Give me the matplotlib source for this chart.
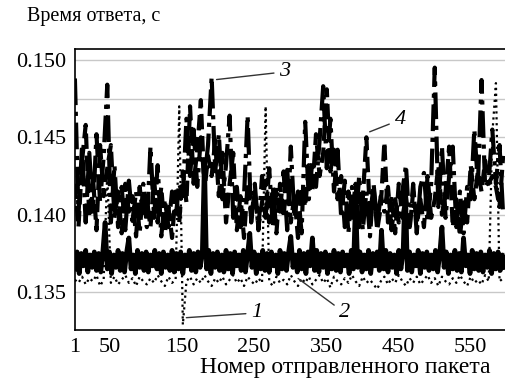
import numpy as np
import matplotlib
matplotlib.use("Agg")
import matplotlib.pyplot as plt

plt.rcParams['font.family'] = ['Liberation Serif', 'DejaVu Serif']

# packet numbers (every 5th packet)
packets = np.arange(1, 601, 5)
# curve 2 is read more densely (every 3rd packet)
packets2 = np.arange(1, 601, 3)

# curve 1 - dotted, lowest
resp1 = [
    0.1358, 0.1356, 0.1360, 0.1355, 0.1359, 0.1357, 0.1361, 0.1354, 0.1358, 0.1428,
    0.1356, 0.1360, 0.1355, 0.1358, 0.1361, 0.1356, 0.1359, 0.1354, 0.1360, 0.1357,
    0.1355, 0.1359, 0.1356, 0.1361, 0.1357, 0.1354, 0.1360, 0.1356, 0.1358, 0.1470,
    0.1329, 0.1357, 0.1360, 0.1355, 0.1359, 0.1356, 0.1361, 0.1357, 0.1354, 0.1359,
    0.1356, 0.1360, 0.1355, 0.1358, 0.1361, 0.1356, 0.1359, 0.1354, 0.1360, 0.1357,
    0.1355, 0.1359, 0.1356, 0.1470, 0.1357, 0.1354, 0.1360, 0.1356, 0.1358, 0.1355,
    0.1361, 0.1357, 0.1354, 0.1359, 0.1356, 0.1360, 0.1355, 0.1358, 0.1361, 0.1356,
    0.1359, 0.1353, 0.1360, 0.1357, 0.1355, 0.1359, 0.1356, 0.1361, 0.1357, 0.1354,
    0.1360, 0.1356, 0.1358, 0.1355, 0.1352, 0.1357, 0.1360, 0.1355, 0.1359, 0.1356,
    0.1361, 0.1357, 0.1354, 0.1359, 0.1356, 0.1360, 0.1355, 0.1358, 0.1361, 0.1356,
    0.1359, 0.1354, 0.1360, 0.1357, 0.1355, 0.1359, 0.1356, 0.1361, 0.1357, 0.1354,
    0.1360, 0.1356, 0.1358, 0.1355, 0.1361, 0.1357, 0.1452, 0.1485, 0.1357, 0.1359,
]

# curve 2 - solid, thick band
resp2 = [
    0.1365, 0.1376, 0.1362, 0.1375, 0.1367, 0.1377, 0.1363, 0.1374, 0.1366, 0.1376,
    0.1364, 0.1375, 0.1363, 0.1377, 0.1395, 0.1365, 0.1376, 0.1362, 0.1374, 0.1366,
    0.1377, 0.1364, 0.1375, 0.1363, 0.1376, 0.1385, 0.1365, 0.1374, 0.1362, 0.1377,
    0.1366, 0.1375, 0.1364, 0.1376, 0.1363, 0.1374, 0.1367, 0.1377, 0.1365, 0.1375,
    0.1362, 0.1376, 0.1366, 0.1374, 0.1364, 0.1377, 0.1363, 0.1375, 0.1365, 0.1376,
    0.1362, 0.1374, 0.1367, 0.1377, 0.1364, 0.1375, 0.1363, 0.1376, 0.1366, 0.1374,
    0.1435, 0.1365, 0.1377, 0.1362, 0.1375, 0.1366, 0.1376, 0.1364, 0.1374, 0.1363,
    0.1377, 0.1365, 0.1375, 0.1362, 0.1376, 0.1367, 0.1374, 0.1364, 0.1377, 0.1363,
    0.1375, 0.1388, 0.1366, 0.1376, 0.1362, 0.1374, 0.1365, 0.1377, 0.1364, 0.1375,
    0.1363, 0.1376, 0.1367, 0.1374, 0.1362, 0.1377, 0.1365, 0.1375, 0.1364, 0.1376,
    0.1386, 0.1366, 0.1374, 0.1363, 0.1377, 0.1365, 0.1375, 0.1362, 0.1376, 0.1367,
    0.1385, 0.1364, 0.1377, 0.1363, 0.1375, 0.1366, 0.1376, 0.1362, 0.1374, 0.1365,
    0.1377, 0.1364, 0.1375, 0.1363, 0.1376, 0.1367, 0.1374, 0.1362, 0.1377, 0.1365,
    0.1410, 0.1366, 0.1376, 0.1363, 0.1374, 0.1365, 0.1377, 0.1362, 0.1375, 0.1367,
    0.1376, 0.1364, 0.1390, 0.1365, 0.1377, 0.1363, 0.1375, 0.1366, 0.1374, 0.1362,
    0.1377, 0.1365, 0.1375, 0.1422, 0.1364, 0.1376, 0.1363, 0.1374, 0.1367, 0.1377,
    0.1362, 0.1375, 0.1366, 0.1376, 0.1364, 0.1374, 0.1365, 0.1377, 0.1363, 0.1375,
    0.1392, 0.1366, 0.1376, 0.1362, 0.1374, 0.1365, 0.1377, 0.1364, 0.1375, 0.1363,
    0.1385, 0.1367, 0.1374, 0.1362, 0.1377, 0.1365, 0.1375, 0.1364, 0.1376, 0.1363,
    0.1374, 0.1366, 0.1377, 0.1362, 0.1375, 0.1365, 0.1376, 0.1364, 0.1374, 0.1366,
]

# curve 3 - dash-dot
resp3 = [
    0.1488, 0.1400, 0.1445, 0.1395, 0.1440, 0.1402, 0.1452, 0.1408, 0.1438, 0.1484,
    0.1395, 0.1432, 0.1392, 0.1418, 0.1390, 0.1422, 0.1396, 0.1415, 0.1388, 0.1420,
    0.1392, 0.1444, 0.1398, 0.1432, 0.1386, 0.1410, 0.1392, 0.1415, 0.1398, 0.1420,
    0.1412, 0.1462, 0.1425, 0.1455, 0.1418, 0.1450, 0.1422, 0.1445, 0.1489, 0.1428,
    0.1452, 0.1410, 0.1432, 0.1464, 0.1398, 0.1418, 0.1392, 0.1412, 0.1464, 0.1395,
    0.1420, 0.1390, 0.1425, 0.1398, 0.1430, 0.1392, 0.1418, 0.1402, 0.1428, 0.1390,
    0.1444, 0.1398, 0.1415, 0.1388, 0.1460, 0.1410, 0.1435, 0.1418, 0.1448, 0.1483,
    0.1430, 0.1462, 0.1415, 0.1442, 0.1398, 0.1422, 0.1388, 0.1418, 0.1395, 0.1425,
    0.1390, 0.1415, 0.1386, 0.1420, 0.1395, 0.1412, 0.1402, 0.1418, 0.1390, 0.1410,
    0.1395, 0.1415, 0.1432, 0.1392, 0.1420, 0.1388, 0.1418, 0.1427, 0.1395, 0.1420,
    0.1495, 0.1405, 0.1444, 0.1398, 0.1425, 0.1444, 0.1392, 0.1415, 0.1388, 0.1418,
    0.1410, 0.1455, 0.1420, 0.1487, 0.1418, 0.1422, 0.1455, 0.1420, 0.1445, 0.1400,
]

# curve 4 - dashed
resp4 = [
    0.1420, 0.1392, 0.1435, 0.1458, 0.1398, 0.1425, 0.1390, 0.1445, 0.1412, 0.1430,
    0.1445, 0.1398, 0.1415, 0.1388, 0.1420, 0.1402, 0.1412, 0.1386, 0.1418, 0.1398,
    0.1410, 0.1392, 0.1423, 0.1395, 0.1418, 0.1388, 0.1405, 0.1385, 0.1415, 0.1395,
    0.1428, 0.1408, 0.1470, 0.1420, 0.1442, 0.1474, 0.1415, 0.1438, 0.1425, 0.1448,
    0.1412, 0.1440, 0.1395, 0.1420, 0.1440, 0.1390, 0.1412, 0.1385, 0.1420, 0.1398,
    0.1415, 0.1392, 0.1408, 0.1422, 0.1395, 0.1418, 0.1388, 0.1420, 0.1398, 0.1429,
    0.1395, 0.1412, 0.1385, 0.1418, 0.1405, 0.1432, 0.1415, 0.1452, 0.1425, 0.1440,
    0.1481, 0.1428, 0.1442, 0.1410, 0.1425, 0.1392, 0.1415, 0.1398, 0.1420, 0.1392,
    0.1410, 0.1450, 0.1400, 0.1418, 0.1390, 0.1405, 0.1447, 0.1395, 0.1412, 0.1388,
    0.1420, 0.1398, 0.1412, 0.1390, 0.1415, 0.1395, 0.1410, 0.1392, 0.1425, 0.1398,
    0.1410, 0.1432, 0.1400, 0.1415, 0.1444, 0.1392, 0.1410, 0.1386, 0.1408, 0.1395,
    0.1432, 0.1410, 0.1428, 0.1415, 0.1435, 0.1420, 0.1425, 0.1418, 0.1405, 0.1438,
]

xticks = [1, 50, 150, 250, 350, 450, 550]
yticks = [0.135, 0.140, 0.145, 0.150]

fig = plt.figure(figsize=(5.06, 3.85), dpi=100)
ax = fig.add_axes([0.148, 0.143, 0.852, 0.730])

ax.plot(packets, resp1, color='black', linestyle=':', linewidth=1.6)
ax.plot(packets2, resp2, color='black', linestyle='-', linewidth=3.4)
ax.plot(packets, resp3, color='black', linestyle='-.', linewidth=3.0)
ax.plot(packets, resp4, color='black', linestyle='--', linewidth=3.0)

ax.set_xlim(1, 600)
ax.set_ylim(0.13256, 0.15071)
ax.set_xticks(xticks)
ax.set_xticklabels([str(t) for t in xticks])
ax.set_yticks(yticks)
ax.set_yticklabels(['%.3f' % t for t in yticks])
ax.set_yticks(np.arange(0.135, 0.1501, 0.0025), minor=True)
ax.grid(True, which='both', axis='y', color='#c8c8c8', linewidth=1.0)
ax.set_axisbelow(True)
ax.tick_params(length=0, labelsize=16, pad=6)
ax.tick_params(which='minor', length=0)
ax.spines['right'].set_visible(False)
for s in ['left', 'top', 'bottom']:
    ax.spines[s].set_linewidth(1.2)

# curve labels with leader lines
lead = dict(arrowstyle='-', color='#333333', linewidth=1.0)
ax.annotate('3', xy=(194, 0.14871), xytext=(293, 0.14923), fontsize=16, style='italic',
            va='center', ha='center', arrowprops=lead)
ax.annotate('4', xy=(407, 0.14529), xytext=(453, 0.14613), fontsize=16, style='italic',
            va='center', ha='center', arrowprops=lead)
ax.annotate('1', xy=(152, 0.13334), xytext=(254, 0.13366), fontsize=16, style='italic',
            va='center', ha='center', arrowprops=lead)
ax.annotate('2', xy=(308, 0.13599), xytext=(376, 0.13366), fontsize=16, style='italic',
            va='center', ha='center', arrowprops=lead)

fig.text(27 / 506, 1 - 17 / 385, 'Время ответа, с', fontsize=14.5, va='center', ha='left')
fig.text(345 / 506, 1 - 367 / 385, 'Номер отправленного пакета', fontsize=17,
         va='center', ha='center')

fig.savefig('out.png', dpi=100)
